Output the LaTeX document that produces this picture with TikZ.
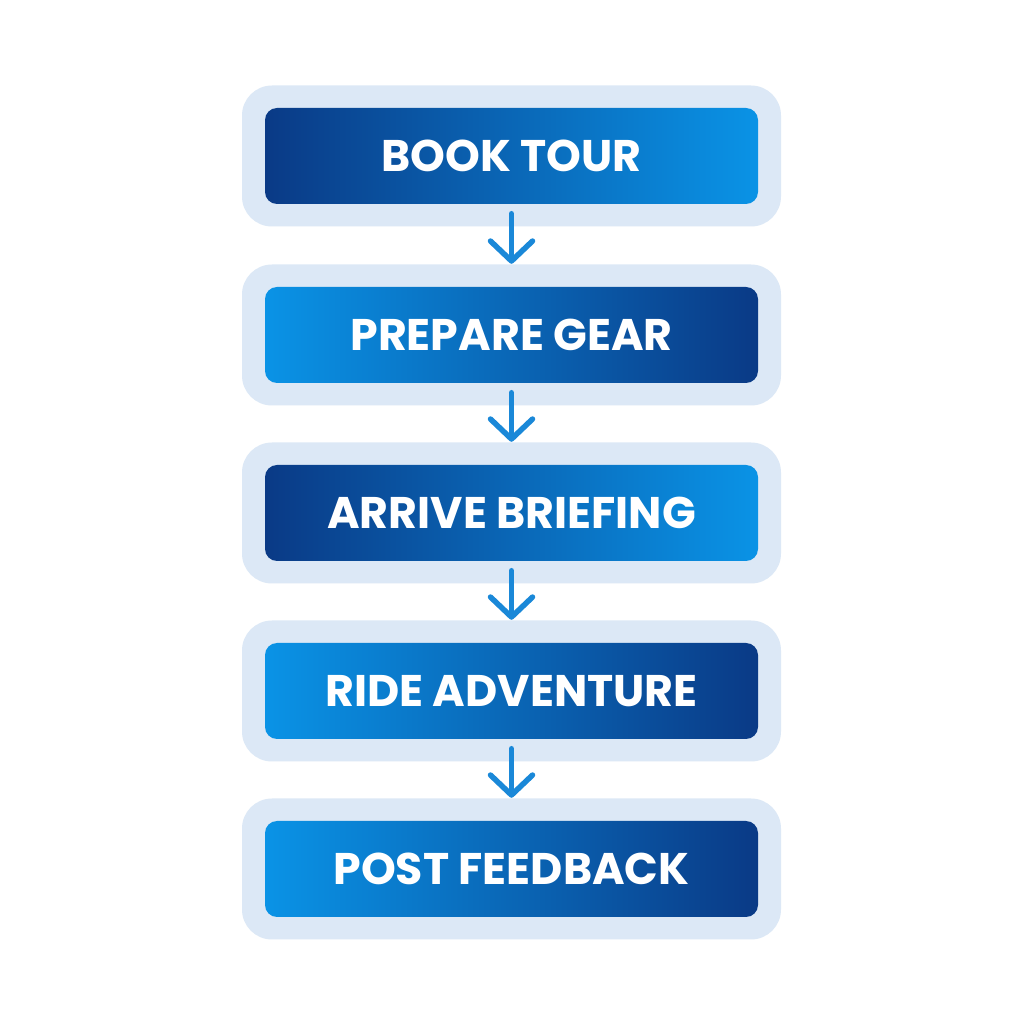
\documentclass[tikz,border=0pt]{standalone}
\usepackage{fontspec}
\setmainfont{Poppins}[UprightFont=* Bold]
\usetikzlibrary{arrows.meta}
\definecolor{stepdark}{HTML}{0A3A86}
\definecolor{steplight}{HTML}{0A93E6}
\definecolor{halo}{HTML}{DCE8F6}
\definecolor{arrowblue}{HTML}{1A88D8}
\tikzset{
  halobox/.style={fill=halo,rounded corners=0.3cm,minimum width=5.39cm,minimum height=1.41cm},
  stepbox/.style={rounded corners=0.12cm,minimum width=4.93cm,minimum height=0.96cm,
    text=white,font=\fontsize{12.6}{14}\selectfont},
  darkfirst/.style={left color=stepdark,right color=steplight},
  lightfirst/.style={left color=steplight,right color=stepdark},
  flow/.style={arrowblue,line width=0.055cm,line cap=round,
    -{Straight Barb[length=0.2cm,width=0.42cm,line width=0.055cm,round]}}
}
\begin{document}
\begin{tikzpicture}
\fill[white] (0,0) rectangle (10.24,10.24);
\useasboundingbox (0,0) rectangle (10.24,10.24);
\foreach \i/\y/\look/\txt in {1/8.68/darkfirst/BOOK TOUR,2/6.89/lightfirst/PREPARE GEAR,
  3/5.11/darkfirst/ARRIVE BRIEFING,4/3.33/lightfirst/RIDE ADVENTURE,5/1.55/lightfirst/POST FEEDBACK}
{
  \node[halobox] (h\i) at (5.115,\y) {};
  \node[stepbox,\look] (s\i) at (5.115,\y) {\txt};
}
% arrows between steps
\foreach \i [count=\j from 2] in {1,...,4}
  \draw[flow] ([yshift=-0.09cm]s\i.south) -- (h\j.north);
\end{tikzpicture}
\end{document}
